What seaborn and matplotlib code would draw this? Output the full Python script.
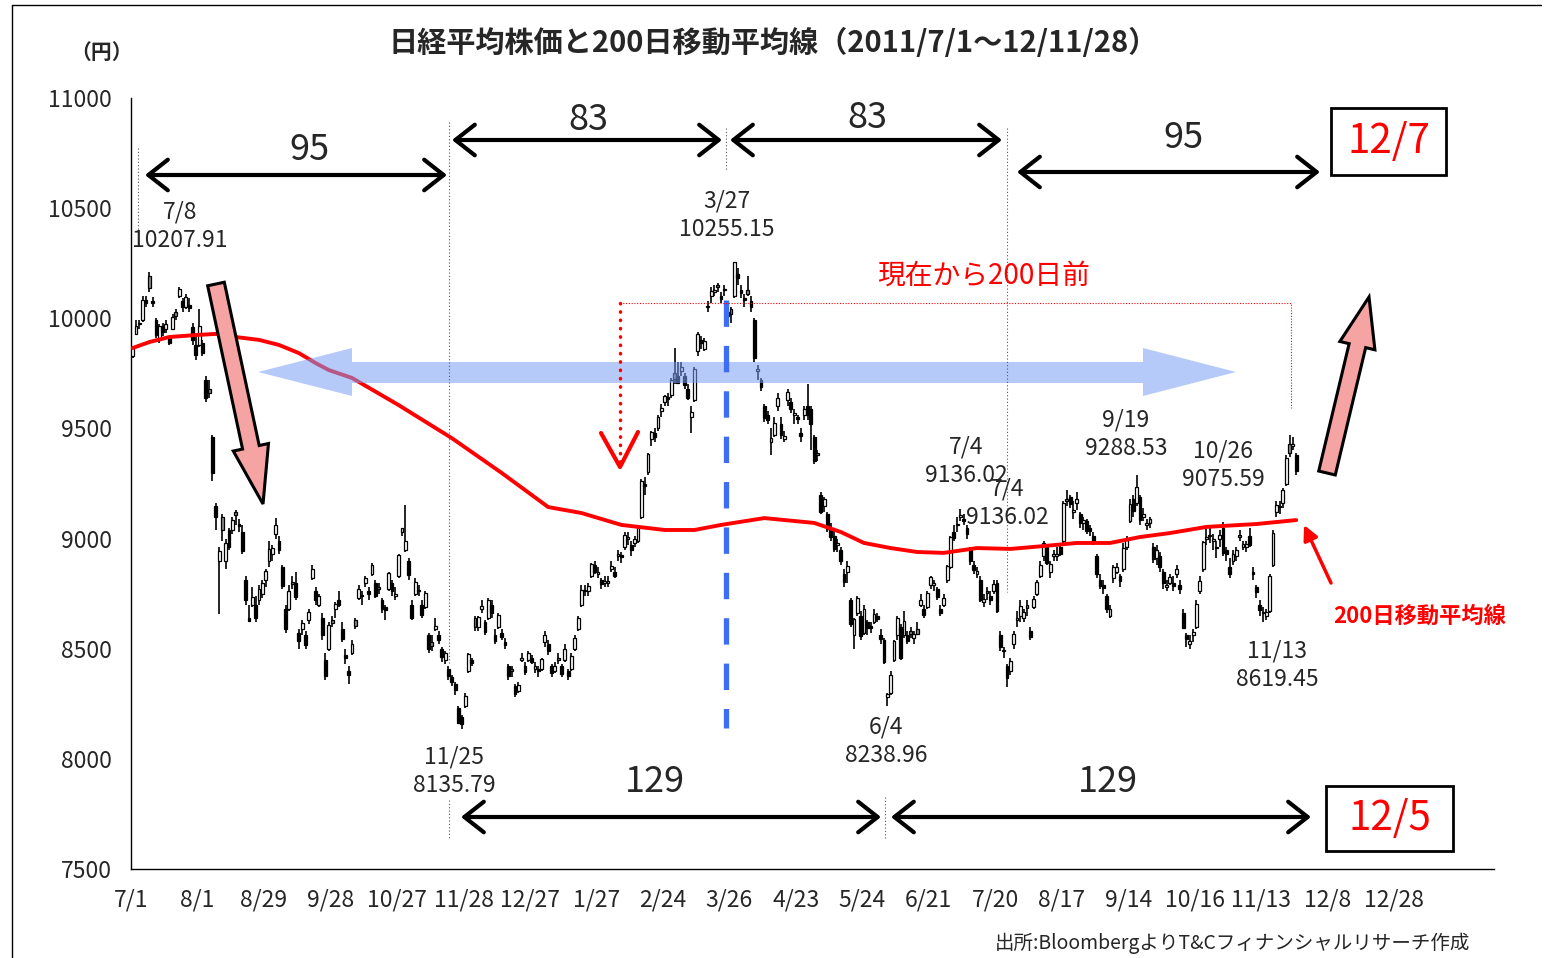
import numpy as np
import pandas as pd
import matplotlib
matplotlib.use('Agg')
from matplotlib import pyplot as plt
from matplotlib.patches import Rectangle, Polygon, FancyArrow
import seaborn as sns

# 日足データ (2011/7/1 ~ 2012/11/28, 351営業日)
opens = [9830, 9930, 9975, 9990, 10085, 10190, 10080, 9990, 9900, 9965, 9950, 9910, 9950, 10030, 10100, 10080, 10050, 10060, 9960, 9880,
         9880, 9890, 9720, 9680, 9460, 9150, 8900, 9100, 8900, 9040, 9040, 9120, 9060, 9030, 8810, 8640, 8700, 8700, 8720, 8750, 8810, 8900, 8930,
         9020, 8990, 8870, 8680, 8680, 8800, 8800, 8570, 8590, 8560, 8630, 8820, 8760, 8700, 8640, 8450, 8500, 8630, 8680, 8720,
         8590, 8470, 8400, 8480, 8630, 8730, 8740, 8800, 8760, 8840, 8800, 8780, 8720, 8690, 8770, 8800, 8740, 8830, 9030, 8950,
         8900, 8700, 8750, 8760, 8700, 8690, 8560, 8530, 8590, 8560, 8500, 8450, 8410, 8370, 8340, 8230, 8190, 8240, 8400, 8450,
         8640, 8600, 8680, 8620, 8640, 8700, 8560, 8600, 8570, 8530, 8420, 8410, 8330, 8310, 8450, 8420, 8450, 8460, 8410, 8400, 8410,
         8530, 8520, 8420, 8400, 8460, 8420, 8450, 8400, 8410, 8500, 8590, 8700, 8760, 8760, 8830, 8880, 8840, 8810, 8800,
         8800, 8860, 8850, 8920, 8920, 8960, 9000, 8970, 8980, 8990, 9100, 9250, 9300, 9450, 9480, 9500, 9580, 9620, 9640, 9650, 9750,
         9740, 9760, 9740, 9680, 9550, 9630, 9850, 9900, 9860, 10050, 10100, 10120, 10150, 10100, 10130, 10030, 10040, 10100, 10200, 10130, 10090,
         10130, 10080, 9990, 9760, 9720, 9600, 9560, 9440, 9470, 9600, 9520, 9450, 9630, 9620, 9560, 9550, 9480, 9560, 9600, 9590,
         9460, 9390, 9200, 9150, 9110, 9050, 9010, 8970, 8950, 8840, 8850, 8720, 8560, 8660, 8650, 8570, 8620, 8600, 8620, 8650, 8560,
         8540, 8280, 8300, 8450, 8560, 8600, 8560, 8560, 8580, 8550, 8590, 8700, 8680, 8690, 8790, 8790, 8770, 8680, 8700, 8810, 8870,
         9030, 9060, 9100, 9090, 9050, 8950, 8880, 8840, 8810, 8710, 8760, 8740, 8760, 8800, 8560, 8490, 8420, 8400, 8520, 8630, 8650,
         8640, 8700, 8580, 8690, 8750, 8830, 8920, 8960, 8850, 8920, 8920, 8960, 8990, 9180, 9190, 9120, 9160, 9110, 9070, 9080, 9050, 9010, 8920,
         8810, 8790, 8740, 8650, 8820, 8850, 8830, 8860, 8960, 9080, 9180, 9160, 9190, 9100, 9060, 9070, 8960, 8910, 8920,
         8850, 8780, 8800, 8800, 8840, 8790, 8660, 8560, 8520, 8560, 8600, 8760, 8860, 9000, 9010, 8990, 8960, 9000, 9050, 8950, 8870, 8900,
         8920, 9010, 8960, 8960, 9010, 8850, 8780, 8700, 8660, 8650, 8670, 8880, 9120, 9150, 9160, 9250, 9430, 9420, 9380]
highs = [9876, 9990, 9990, 10100, 10100, 10207.91, 10095, 10000, 9975, 9980, 9990, 9920, 10020, 10040, 10140, 10090, 10110, 10090, 9980, 9920,
         10040, 9900, 9740, 9720, 9470, 9160, 8960, 9110, 9000, 9050, 9100, 9130, 9090, 9060, 8830, 8700, 8780, 8740, 8790, 8810, 8860, 8990, 8970,
         9095, 9010, 8880, 8700, 8790, 8830, 8850, 8590, 8630, 8580, 8680, 8880, 8780, 8750, 8660, 8480, 8620, 8650, 8710, 8760,
         8620, 8500, 8420, 8540, 8640, 8790, 8760, 8830, 8780, 8890, 8810, 8800, 8730, 8700, 8850, 8810, 8780, 8930, 9050, 9152,
         8910, 8720, 8820, 8790, 8720, 8760, 8570, 8560, 8640, 8580, 8510, 8490, 8420, 8380, 8350, 8240, 8200, 8300, 8480, 8460,
         8650, 8650, 8720, 8630, 8730, 8720, 8590, 8660, 8590, 8550, 8430, 8420, 8340, 8350, 8480, 8440, 8490, 8470, 8440, 8420, 8460,
         8580, 8540, 8430, 8440, 8480, 8430, 8520, 8410, 8480, 8560, 8650, 8790, 8790, 8800, 8890, 8900, 8870, 8820, 8830,
         8830, 8900, 8870, 8950, 8940, 9030, 9030, 8990, 9010, 9060, 9270, 9280, 9390, 9490, 9500, 9560, 9610, 9650, 9660, 9730, 9866,
         9800, 9800, 9750, 9700, 9600, 9780, 9940, 9920, 9910, 10080, 10140, 10150, 10160, 10120, 10150, 10050, 10050, 10255.15, 10230, 10150, 10110,
         10190, 10100, 10000, 9790, 9730, 9610, 9580, 9500, 9550, 9660, 9550, 9490, 9680, 9640, 9590, 9560, 9500, 9600, 9700, 9600,
         9470, 9400, 9210, 9190, 9120, 9070, 9040, 9000, 8960, 8860, 8900, 8730, 8640, 8740, 8670, 8700, 8630, 8620, 8680, 8660, 8590,
         8550, 8300, 8400, 8540, 8650, 8610, 8670, 8580, 8600, 8580, 8620, 8750, 8700, 8760, 8830, 8810, 8780, 8700, 8750, 8880, 9010,
         9060, 9100, 9136.02, 9110, 9060, 8960, 8900, 8870, 8830, 8750, 8780, 8760, 8810, 8810, 8580, 8510, 8430, 8460, 8580, 8670, 8720,
         8680, 8720, 8600, 8740, 8810, 8900, 8990, 8970, 8900, 8950, 8960, 8970, 9170, 9220, 9200, 9170, 9210, 9120, 9100, 9090, 9060, 9030, 8930,
         8840, 8810, 8750, 8700, 8880, 8890, 8840, 8980, 9010, 9180, 9200, 9288.53, 9200, 9140, 9090, 9100, 8980, 8970, 8940,
         8860, 8810, 8840, 8830, 8880, 8810, 8680, 8570, 8560, 8590, 8720, 8830, 8990, 9050, 9050, 9020, 8990, 9040, 9075.59, 8960, 8910, 8950,
         8960, 9040, 8990, 8990, 9050, 8870, 8790, 8720, 8690, 8680, 8840, 9040, 9170, 9170, 9230, 9380, 9470, 9460, 9390]
lows = [9820, 9925, 9950, 9985, 10050, 10120, 10050, 9910, 9890, 9920, 9935, 9880, 9945, 9990, 10090, 10030, 10040, 10030, 9880, 9810,
        9870, 9830, 9620, 9640, 9260, 9040, 8656, 8990, 8860, 8950, 9020, 9060, 9030, 8930, 8700, 8620, 8690, 8620, 8700, 8730, 8780, 8870, 8900,
        9000, 8930, 8770, 8570, 8670, 8770, 8720, 8500, 8560, 8500, 8610, 8810, 8700, 8690, 8540, 8360, 8490, 8600, 8640, 8690,
        8530, 8430, 8340, 8470, 8590, 8720, 8700, 8780, 8720, 8830, 8730, 8750, 8660, 8630, 8760, 8740, 8720, 8820, 9010, 8940,
        8810, 8630, 8740, 8740, 8640, 8680, 8480, 8490, 8580, 8520, 8440, 8430, 8360, 8330, 8290, 8160, 8135.79, 8230, 8390, 8420,
        8580, 8580, 8660, 8560, 8630, 8640, 8520, 8590, 8540, 8500, 8360, 8370, 8280, 8300, 8440, 8380, 8440, 8430, 8390, 8370, 8400,
        8510, 8470, 8370, 8390, 8430, 8370, 8440, 8360, 8400, 8490, 8580, 8690, 8740, 8740, 8820, 8840, 8820, 8770, 8780,
        8780, 8850, 8820, 8900, 8890, 8950, 8970, 8920, 8960, 8980, 9090, 9200, 9290, 9420, 9440, 9490, 9550, 9600, 9600, 9640, 9700,
        9700, 9740, 9680, 9630, 9480, 9620, 9830, 9860, 9850, 10030, 10070, 10100, 10120, 10070, 10100, 9990, 9980, 10090, 10150, 10090, 10050,
        10100, 10030, 9800, 9720, 9670, 9530, 9520, 9380, 9460, 9580, 9450, 9440, 9600, 9570, 9520, 9520, 9440, 9540, 9540, 9400,
        9340, 9350, 9110, 9120, 9030, 8990, 8940, 8940, 8880, 8780, 8800, 8600, 8500, 8650, 8540, 8560, 8560, 8570, 8610, 8620, 8520,
        8430, 8238.96, 8290, 8440, 8540, 8450, 8550, 8520, 8550, 8520, 8560, 8690, 8640, 8680, 8770, 8760, 8720, 8650, 8690, 8800, 8860,
        8990, 9030, 9080, 9060, 9000, 8880, 8840, 8820, 8710, 8690, 8720, 8700, 8750, 8660, 8490, 8460, 8328, 8380, 8500, 8600, 8620,
        8620, 8650, 8540, 8680, 8740, 8820, 8900, 8880, 8820, 8900, 8900, 8920, 8980, 9150, 9140, 9090, 9130, 9050, 9040, 9020, 9010, 8970, 8820,
        8770, 8750, 8660, 8640, 8800, 8840, 8780, 8850, 8950, 9070, 9100, 9150, 9060, 9080, 9040, 9050, 8890, 8880, 8850,
        8770, 8760, 8790, 8760, 8820, 8750, 8590, 8510, 8500, 8530, 8590, 8750, 8850, 8970, 8980, 8950, 8910, 8960, 8920, 8900, 8820, 8880,
        8900, 8990, 8950, 8940, 8960, 8810, 8730, 8650, 8619.45, 8630, 8660, 8870, 9100, 9110, 9140, 9240, 9370, 9400, 9290]
closes = [9868, 9965, 9972, 10082, 10071, 10137, 10069, 9925, 9963, 9936, 9974, 9889, 10005, 10010, 10132, 10050, 10097, 10047, 9901, 9833,
          9965, 9844, 9637, 9659, 9299, 9097, 8944, 9038, 8981, 8963, 9086, 9107, 9057, 8943, 8719, 8628, 8733, 8639, 8772, 8797, 8851, 8953, 8955,
          9060, 8950, 8784, 8590, 8763, 8793, 8737, 8535, 8616, 8518, 8668, 8864, 8721, 8741, 8560, 8374, 8609, 8615, 8701, 8700,
          8545, 8456, 8382, 8522, 8605, 8773, 8738, 8823, 8747, 8879, 8741, 8772, 8682, 8678, 8843, 8762, 8748, 8926, 9050, 8988,
          8835, 8640, 8801, 8767, 8655, 8755, 8500, 8514, 8603, 8541, 8463, 8479, 8374, 8348, 8314, 8165, 8160, 8287, 8477, 8434,
          8597, 8643, 8695, 8575, 8722, 8664, 8536, 8653, 8552, 8519, 8377, 8401, 8296, 8336, 8459, 8395, 8479, 8440, 8423, 8398, 8455,
          8560, 8488, 8390, 8422, 8448, 8385, 8500, 8378, 8466, 8550, 8639, 8766, 8765, 8785, 8883, 8849, 8841, 8793, 8802,
          8809, 8876, 8831, 8929, 8917, 9015, 9002, 8947, 8999, 9052, 9260, 9238, 9384, 9485, 9463, 9554, 9595, 9647, 9633, 9722, 9723,
          9707, 9777, 9698, 9637, 9576, 9768, 9929, 9889, 9899, 10050, 10123, 10129, 10141, 10086, 10127, 10011, 10018, 10255, 10182, 10114, 10083,
          10109, 10050, 9819, 9767, 9688, 9546, 9538, 9458, 9524, 9637, 9470, 9464, 9667, 9588, 9561, 9542, 9467, 9590, 9561, 9520,
          9350, 9380, 9119, 9181, 9045, 9009, 8953, 8973, 8900, 8801, 8876, 8611, 8633, 8729, 8556, 8680, 8593, 8593, 8657, 8633, 8542,
          8440, 8295, 8382, 8533, 8639, 8459, 8624, 8536, 8568, 8568, 8569, 8721, 8655, 8752, 8824, 8798, 8735, 8663, 8730, 8874, 9006,
          9003, 9066, 9104, 9079, 9020, 8896, 8857, 8851, 8720, 8724, 8755, 8721, 8795, 8669, 8508, 8488, 8366, 8443, 8566, 8635, 8695,
          8666, 8684, 8555, 8726, 8803, 8882, 8979, 8891, 8885, 8929, 8929, 8929, 9162, 9171, 9156, 9131, 9178, 9070, 9085, 9034, 9033, 8983, 8839,
          8783, 8775, 8679, 8680, 8871, 8869, 8807, 8959, 8995, 9159, 9123, 9232, 9086, 9110, 9069, 9091, 8906, 8949, 8870,
          8797, 8786, 8824, 8785, 8863, 8769, 8596, 8546, 8534, 8577, 8701, 8807, 8983, 9002, 9010, 8996, 8956, 9014, 8933, 8929, 8841, 8928,
          8946, 9007, 8975, 8975, 8972, 8837, 8757, 8676, 8661, 8665, 8830, 9024, 9153, 9142, 9222, 9366, 9388, 9423, 9308]

# 200日移動平均線 (営業日番号, 値)
ma_pos = [0, 5, 11, 19, 25, 31, 38, 44, 50, 55, 59, 66, 80, 96, 111, 125, 135, 147, 160, 169,
          177, 190, 205, 213, 220, 228, 236, 244, 254, 264, 274, 284, 294, 303, 312, 323, 338, 350]
ma_vals = [9865, 9892, 9915, 9924, 9929, 9915, 9902, 9879, 9842, 9797, 9765, 9729, 9606, 9456, 9298, 9143, 9116, 9062, 9039, 9039,
           9062, 9093, 9071, 9030, 8980, 8957, 8939, 8935, 8957, 8953, 8966, 8980, 8980, 9007, 9025, 9053, 9066, 9084]

tick_labels = ['7/1', '8/1', '8/29', '9/28', '10/27', '11/28', '12/27', '1/27', '2/24', '3/26',
               '4/23', '5/24', '6/21', '7/20', '8/17', '9/14', '10/16', '11/13', '12/8', '12/28']

peak_dates = ['7/8', '3/27', '11/25', '6/4', '7/4', '7/4', '9/19', '10/26', '11/13']
peak_values = ['10207.91', '10255.15', '8135.79', '8238.96', '9136.02', '9136.02', '9288.53', '9075.59', '8619.45']
span_days = ['95', '83', '83', '95', '129', '129']

title = '日経平均株価と200日移動平均線（2011/7/1～12/11/28）'

sns.set_style('white')
plt.rcParams['font.family'] = ['Noto Sans CJK JP', 'DejaVu Sans']

df = pd.DataFrame({'o': opens, 'h': highs, 'l': lows, 'c': closes})
df['x'] = np.arange(len(df)) + 0.5
df['prev'] = df['c'].shift(1).fillna(df['o'])
col = np.where(df['c'] >= df['o'], 'white', np.where(df['c'] > df['prev'], '#8c8c8c', 'black'))

W, H = 1559, 958
fig = plt.figure(figsize=(W / 100, H / 100), dpi=100)
ax = fig.add_axes([131 / W, (H - 869) / H, 1363 / W, 771 / H])

# ローソク足
ax.vlines(df['x'], df['l'], df['h'], color='black', lw=1.2, zorder=2)
body = (df['c'] - df['o']).abs().clip(lower=8)
ax.bar(df['x'], body, bottom=df[['o', 'c']].min(axis=1), width=0.85,
       color=col, edgecolor='black', linewidth=0.9, zorder=3)

# 200日移動平均線
sns.lineplot(x=np.array(ma_pos) + 0.5, y=ma_vals, color='red', lw=2.8, ax=ax, zorder=4)

ax.set_xlim(0, 410)
ax.set_ylim(7500, 11000)
ax.set_xticks(range(0, 411, 10))
xl = [''] * 42
for i, t in enumerate(tick_labels):
    xl[2 * i] = t
ax.set_xticklabels(xl)
ax.set_yticks(range(7500, 11001, 500))
ax.tick_params(axis='x', direction='in', length=8, width=1, labelsize=16.5, pad=14)
ax.tick_params(axis='y', direction='in', length=6, width=1, labelsize=16.5, pad=14)
for s in ['top', 'right']:
    ax.spines[s].set_visible(False)
for s in ['left', 'bottom']:
    ax.spines[s].set_color('black')
    ax.spines[s].set_linewidth(1)

# 注釈用のピクセル座標レイヤー
ov = fig.add_axes([0, 0, 1, 1], zorder=5)
ov.set_xlim(0, W)
ov.set_ylim(H, 0)
ov.axis('off')
ov.patch.set_alpha(0)

# 外枠
ov.plot([12, 1541], [5, 5], color='black', lw=1)
ov.plot([12, 12], [5, H], color='black', lw=1)

ov.text(773, 43, title, ha='center', va='center', fontsize=21, weight='bold')
ov.text(102, 52, '（円）', ha='center', va='center', fontsize=15, weight='bold')
ov.text(1470, 943, '出所:BloombergよりT&Cフィナンシャルリサーチ作成', ha='right', va='center', fontsize=14)

# 縦の点線
for x, y0, y1 in [(138, 148, 247), (449, 122, 663), (449, 800, 840), (726, 128, 170),
                  (885, 797, 840), (1007, 128, 592)]:
    ov.plot([x, x], [y0, y1], color='#555555', lw=0.8, ls=(0, (1, 2)))

# 3/27の青い破線
ov.plot([726, 726], [300, 728], color='#3d6cf5', lw=3.8, ls=(0, (5, 3.6)))

# 青い両矢印(半透明)
blue = [(258, 372), (352, 348), (352, 362), (1143, 362), (1143, 348), (1236, 372),
        (1143, 396), (1143, 383), (352, 383), (352, 396)]
ov.add_patch(Polygon(blue, closed=True, fc='#7b9ff5', ec='none', alpha=0.55))

# ピンクの太い矢印
ov.add_patch(FancyArrow(216, 284, 263 - 216, 504 - 284, width=17, head_width=36, head_length=58,
                        length_includes_head=True, fc='#f5a3a3', ec='black', lw=2.2))
ov.add_patch(FancyArrow(1327, 473, 1369 - 1327, 297 - 473, width=17, head_width=36, head_length=50,
                        length_includes_head=True, fc='#f5a3a3', ec='black', lw=2.2))

# 現在から200日前
ov.plot([620, 620], [303, 462], color='red', lw=2.5, ls=(0, (0.1, 2.3)), dash_capstyle='round')
ov.plot([601, 620, 638], [433, 467, 432], color='red', lw=3)
ov.plot([620, 1291, 1291], [303, 303, 408], color='red', lw=0.8, ls=(0, (1, 1.5)))
ov.text(984, 276, '現在から200日前', ha='center', va='center', fontsize=20, color='red')

ov.annotate('', xy=(1304, 525), xytext=(1331, 583),
            arrowprops=dict(arrowstyle='-|>', color='red', lw=2.5, mutation_scale=22, shrinkA=0, shrinkB=0))
ov.text(1420, 616, '200日移動平均線', ha='center', va='center', fontsize=16, color='red', weight='bold')

# 日数の両矢印
spans = [((145, 447), 175, (309, 150)), ((452, 722), 140, (588, 120)), ((730, 1002), 140, (867, 118)),
         ((1017, 1320), 172, (1183, 138)), ((461, 881), 817, (655, 782)), ((891, 1311), 817, (1108, 782))]
for ((x0, x1), y, (tx, ty)), lab in zip(spans, span_days):
    ov.annotate('', xy=(x1, y), xytext=(x0, y),
                arrowprops=dict(arrowstyle='<->,head_length=0.7,head_width=0.55', color='black', lw=3,
                                mutation_scale=20, shrinkA=0, shrinkB=0))
    ov.text(tx, ty, lab, ha='center', va='center', fontsize=26)

# 高値・安値ラベル
label_pos = [(180, 212), (727, 201), (454, 757), (886, 727), (966, 447), (1007, 489),
             (1126, 420), (1223, 451), (1277, 651)]
for (px, py), d, v in zip(label_pos, peak_dates, peak_values):
    ov.text(px, py, d, ha='center', va='center', fontsize=16.5)
    ov.text(px, py + 28, v, ha='center', va='center', fontsize=16.5)

# 日付ボックス
for (x0, y0, w, h), t in [((1331, 108, 115, 67), '12/7'), ((1326, 786, 127, 65), '12/5')]:
    ov.add_patch(Rectangle((x0, y0), w, h, fc='white', ec='black', lw=2))
    ov.text(x0 + w / 2, y0 + h / 2, t, ha='center', va='center', fontsize=29, color='red')

fig.savefig('out.png', dpi=100)
